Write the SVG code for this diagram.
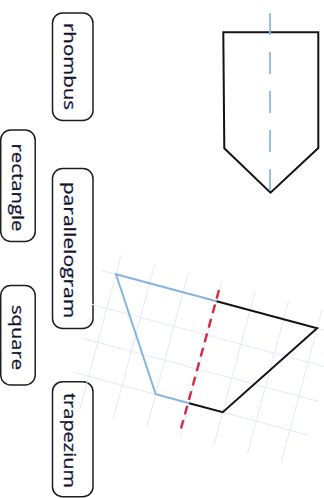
<svg xmlns="http://www.w3.org/2000/svg" width="324" height="498" viewBox="0 0 324 498">
<style>
.box{fill:#fff;stroke:#1e1e1e;stroke-width:1.5}
.lbl{font-family:"Open Sans","Noto Sans",sans-serif;font-size:16px;fill:#14142e;stroke:#14142e;stroke-width:0.25}
.grid{stroke:#e3eaf6;stroke-width:1;fill:none}
.blk{stroke:#141414;stroke-width:2;fill:none;stroke-linejoin:miter}
.blu{stroke:#86b4e2;stroke-width:2;fill:none}
</style>
<rect width="324" height="498" fill="#fff"/>
<g id="label-rhombus">
<rect class="box" x="52.5" y="13" width="40.5" height="107.5" rx="10"/>
<text class="lbl" transform="translate(63.5,23) rotate(90)" textLength="87" lengthAdjust="spacingAndGlyphs">rhombus</text>
</g>
<g id="label-rectangle">
<rect class="box" x="0.7" y="130" width="34.5" height="111.5" rx="10"/>
<text class="lbl" transform="translate(11.5,143.5) rotate(90)" textLength="88" lengthAdjust="spacingAndGlyphs">rectangle</text>
</g>
<g id="label-parallelogram">
<rect class="box" x="52.5" y="168.5" width="40.5" height="160" rx="10"/>
<text class="lbl" transform="translate(63.5,181.7) rotate(90)" textLength="136.6" lengthAdjust="spacingAndGlyphs">parallelogram</text>
</g>
<g id="label-square">
<rect class="box" x="0.7" y="285.5" width="34.5" height="99.5" rx="10"/>
<text class="lbl" transform="translate(11.5,305) rotate(90)" textLength="65" lengthAdjust="spacingAndGlyphs">square</text>
</g>
<g id="label-trapezium">
<rect class="box" x="52.5" y="381.7" width="40.5" height="115" rx="10"/>
<text class="lbl" transform="translate(63.5,393) rotate(90)" textLength="95" lengthAdjust="spacingAndGlyphs">trapezium</text>
</g>
<g id="pentagon">
<polygon class="blk" points="223.3,32.3 318.3,32.3 318.3,148 270.5,192.7 224.3,148.3"/>
<line x1="270" y1="13" x2="270" y2="205" stroke="#8db8e3" stroke-width="1.8" stroke-dasharray="22 17"/>
</g>
<g id="trapezium" transform="translate(116,274.3) rotate(15)">
<g class="grid">
<line x1="0" y1="-20" x2="0" y2="140"/>
<line x1="34.7" y1="-20" x2="34.7" y2="140"/>
<line x1="69.4" y1="-20" x2="69.4" y2="140"/>
<line x1="104.1" y1="-20" x2="104.1" y2="140"/>
<line x1="138.8" y1="-20" x2="138.8" y2="140"/>
<line x1="173.5" y1="-20" x2="173.5" y2="140"/>
<line x1="208.2" y1="-20" x2="208.2" y2="140"/>
<line x1="-16" y1="0" x2="228" y2="0"/>
<line x1="-16" y1="35.2" x2="228" y2="35.2"/>
<line x1="-16" y1="70.4" x2="228" y2="70.4"/>
<line x1="-16" y1="105.6" x2="228" y2="105.6"/>
</g>
<polyline class="blu" points="104.1,0 0,0 69.4,105.6 104.1,105.6"/>
<polyline class="blk" points="104.1,0 208.2,0 138.8,105.6 104.1,105.6"/>
</g>
<g id="connectors">
<line x1="219" y1="290" x2="181" y2="428.5" stroke="#d42a44" stroke-width="2.4" stroke-dasharray="9 6"/>
</g>
</svg>
